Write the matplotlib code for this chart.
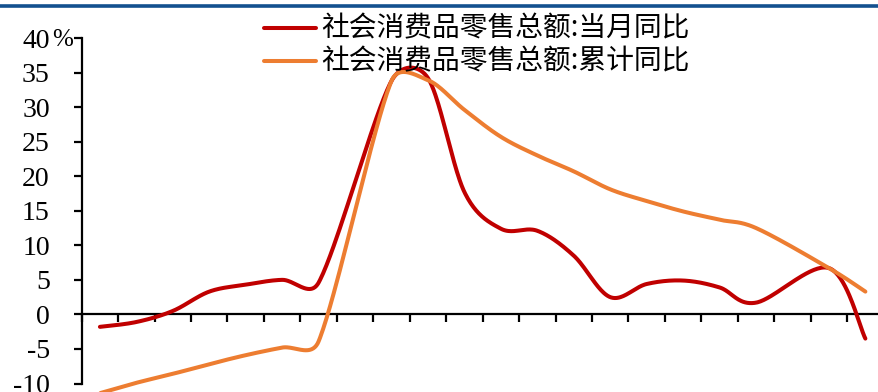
import numpy as np
import matplotlib
matplotlib.use("Agg")
import matplotlib.pyplot as plt
from matplotlib.lines import Line2D

# Monthly retail sales growth, 2020-06 .. 2022-03 (January figures are not published)
months = ["2020-06", "2020-07", "2020-08", "2020-09", "2020-10", "2020-11", "2020-12",
          "2021-01", "2021-02", "2021-03", "2021-04", "2021-05", "2021-06", "2021-07",
          "2021-08", "2021-09", "2021-10", "2021-11", "2021-12", "2022-01", "2022-02",
          "2022-03"]
yoy_month = [-1.8, -1.1, 0.5, 3.3, 4.3, 5.0, 4.6, np.nan, 33.8, 34.2, 17.7, 12.4, 12.1,
             8.5, 2.5, 4.4, 4.9, 3.9, 1.7, np.nan, 6.7, -3.5]
yoy_ytd = [-11.4, -9.9, -8.6, -7.2, -5.9, -4.8, -3.9, np.nan, 33.8, 33.9, 29.6, 25.7, 23.0,
           20.7, 18.1, 16.4, 14.9, 13.7, 12.5, np.nan, 6.7, 3.3]
labels = ["社会消费品零售总额:当月同比", "社会消费品零售总额:累计同比"]
yticks = [-10, -5, 0, 5, 10, 15, 20, 25, 30, 35, 40]

RED = "#C00000"
ORANGE = "#ED7D31"

W, H = 879, 392
fig = plt.figure(figsize=(W / 100, H / 100), dpi=100)

ax_l, ax_r = 81.7, 883.6
ax_top, ax_bot = 38.0, 383.5
ax = fig.add_axes([ax_l / W, (H - ax_bot) / H, (ax_r - ax_l) / W, (ax_bot - ax_top) / H])
ax.set_xlim(-0.5, len(months) - 0.5)
ax.set_ylim(-10, 40)
ax.patch.set_alpha(0)


def smooth_curve(ax, xs, ys, steps=40):
    """Bezier smoothing through the points (display space, arms capped at half a segment)."""
    xs = np.asarray(xs, float)
    ys = np.asarray(ys, float)
    ok = ~np.isnan(ys)
    pts = ax.transData.transform(np.column_stack([xs[ok], ys[ok]]))
    n = len(pts)
    out = [pts[0]]
    t = np.linspace(0, 1, steps)[1:, None]
    for i in range(n - 1):
        p0 = pts[max(i - 1, 0)]
        p1 = pts[i]
        p2 = pts[i + 1]
        p3 = pts[min(i + 2, n - 1)]
        d12 = np.hypot(*(p2 - p1))
        d02 = np.hypot(*(p2 - p0))
        d13 = np.hypot(*(p3 - p1))
        f1 = 1 / 6 if d02 / 6 < d12 / 2 else (d12 / 2) / d02
        f2 = 1 / 6 if d13 / 6 < d12 / 2 else (d12 / 2) / d13
        b1 = p1 + (p2 - p0) * f1
        b2 = p2 - (p3 - p1) * f2
        seg = ((1 - t) ** 3) * p1 + 3 * ((1 - t) ** 2) * t * b1 + 3 * (1 - t) * t ** 2 * b2 + t ** 3 * p2
        out.extend(seg)
    out = np.array(out)
    return ax.transData.inverted().transform(out)


x = np.arange(len(months))
for vals, col in ((yoy_month, RED), (yoy_ytd, ORANGE)):
    c = smooth_curve(ax, x, vals)
    ax.plot(c[:, 0], c[:, 1], color=col, lw=2.9, solid_capstyle="round",
            solid_joinstyle="round", zorder=3, clip_on=False)

# axes styling
for s in ("top", "right"):
    ax.spines[s].set_visible(False)
ax.spines["bottom"].set_position(("data", 0))
for s in ("left", "bottom"):
    ax.spines[s].set_linewidth(1.6)
    ax.spines[s].set_color("black")
    ax.spines[s].set_zorder(2)

ax.set_xticks(np.arange(-0.5, len(months), 1.0))
ax.set_xticklabels([])
ax.tick_params(axis="x", direction="out", length=5.5, width=1.6, color="black")
ax.set_yticks(yticks)
ax.set_yticklabels([str(v) for v in yticks], fontfamily="Liberation Serif", fontsize=20)
ax.tick_params(axis="y", direction="out", length=5.5, width=1.6, color="black", pad=17.5)

fig.text(52.5 / W, 1 - 46.5 / H, "%", fontfamily="Liberation Serif", fontsize=18,
         ha="left", va="baseline")

# top rule
fig.add_artist(Line2D([0, 1], [1 - 6 / H, 1 - 6 / H], color="#13508F", lw=2.6,
                      transform=fig.transFigure))

# legend
for yy, col, lab in ((27.5, RED, labels[0]), (60.5, ORANGE, labels[1])):
    fig.add_artist(Line2D([264 / W, 316 / W], [1 - yy / H, 1 - yy / H], color=col, lw=2.9,
                          solid_capstyle="round", transform=fig.transFigure))
    fig.text(321 / W, 1 - (yy + 1) / H, lab, fontfamily=["Noto Sans CJK SC", "DejaVu Sans"],
             fontsize=20, ha="left", va="center", color="black")

fig.savefig("out.png", dpi=100)
